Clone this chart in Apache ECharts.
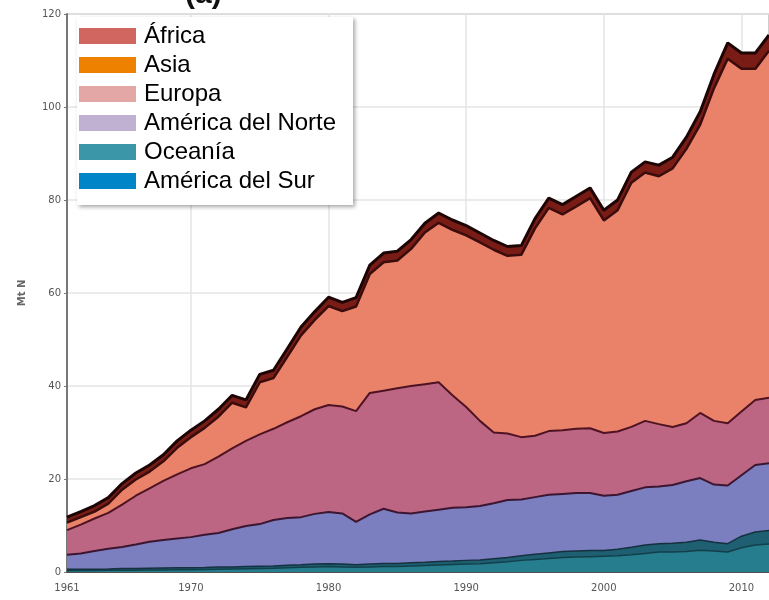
<!DOCTYPE html>
<html>
<head>
<meta charset="utf-8">
<script src="https://cdn.jsdelivr.net/npm/echarts@6/dist/echarts.min.js"></script>
<style>html,body{margin:0;padding:0;background:#fff}#c{width:769px;height:600px}</style>
</head>
<body>
<div id="c"></div>
<script>
const years = [1961,1962,1963,1964,1965,1966,1967,1968,1969,1970,1971,1972,1973,1974,1975,1976,1977,1978,1979,1980,1981,1982,1983,1984,1985,1986,1987,1988,1989,1990,1991,1992,1993,1994,1995,1996,1997,1998,1999,2000,2001,2002,2003,2004,2005,2006,2007,2008,2009,2010,2011,2012];
const xTickLabels = [1961,1970,1980,1990,2000,2010];
const xGridYears = [1970,1980,1990,2000,2010];

const americaSur = [0.3,0.3,0.3,0.35,0.4,0.4,0.45,0.45,0.5,0.5,0.55,0.6,0.65,0.7,0.75,0.8,0.9,1.0,1.1,1.2,1.1,1.0,1.1,1.2,1.2,1.3,1.4,1.5,1.6,1.7,1.8,2.0,2.2,2.5,2.7,2.9,3.1,3.2,3.3,3.4,3.5,3.7,4.0,4.3,4.3,4.4,4.7,4.5,4.3,5.2,5.8,6.0];
const oceania = [0.3,0.3,0.3,0.3,0.35,0.35,0.35,0.4,0.4,0.4,0.4,0.45,0.45,0.5,0.5,0.5,0.55,0.55,0.6,0.6,0.6,0.55,0.6,0.65,0.65,0.7,0.7,0.75,0.75,0.8,0.8,0.85,0.9,1.0,1.1,1.2,1.3,1.3,1.3,1.2,1.4,1.6,1.8,1.8,1.9,2.0,2.2,1.9,1.8,2.5,2.8,2.9];
const americaNorte = [3.1,3.4,3.9,4.35,4.65,5.15,5.7,6.05,6.3,6.6,7.05,7.35,8.1,8.7,9.05,9.9,10.15,10.25,10.8,11.1,10.9,9.25,10.7,11.75,10.95,10.6,10.9,11.15,11.45,11.4,11.6,11.95,12.4,12.1,12.3,12.5,12.4,12.5,12.4,11.8,11.7,12.1,12.4,12.3,12.5,13.1,13.3,12.4,12.5,13.1,14.4,14.5];
const europa = [5.3,6.2,7.0,7.7,9.1,10.5,11.5,12.7,13.8,14.8,15.2,16.4,17.4,18.3,19.3,19.6,20.6,21.7,22.5,23.0,23.0,23.8,26.1,25.4,26.7,27.4,27.4,27.4,24.2,21.6,18.3,15.2,14.3,13.4,13.2,13.7,13.7,13.8,13.9,13.5,13.6,13.8,14.3,13.4,12.5,12.5,14.0,13.7,13.4,13.7,14.0,14.1];
const asia = [1.6,1.6,1.5,2.0,3.2,3.5,3.6,4.2,5.7,6.7,7.8,8.6,9.8,7.2,11.2,10.9,14.1,17.4,19.2,21.3,20.5,22.5,25.6,27.6,27.5,29.5,32.6,34.3,35.6,36.9,38.4,39.3,38.2,39.2,44.6,48.0,46.4,47.8,49.5,45.7,47.6,52.5,53.4,53.3,55.6,59.0,62.0,71.5,78.4,73.7,71.2,74.6];
const africa = [1.2,1.2,1.3,1.3,1.3,1.4,1.4,1.4,1.5,1.5,1.5,1.6,1.6,1.6,1.7,1.7,1.7,1.8,1.8,1.9,1.9,1.9,1.9,2.0,2.0,2.0,2.0,2.1,2.1,2.1,2.0,2.0,2.0,2.0,2.1,2.1,2.1,2.2,2.2,2.2,2.2,2.3,2.3,2.4,2.4,2.5,2.8,3.0,3.4,3.4,3.4,3.4];

const names = ['África','Asia','Europa','América del Norte','Oceanía','América del Sur'];
const legendColors = ['#d0665f','#ee8200','#e3a7a5','#c0b1d3','#3b96a8','#0085c8'];

const chart = echarts.init(document.getElementById('c'), null, {renderer:'canvas'});

function areaSeries(name, arr, fill, line, lw) {
  return {
    name: name, type: 'line', stack: 'total', data: arr,
    symbol: 'none', showSymbol: false,
    itemStyle: {color: fill},
    lineStyle: {color: line, width: lw},
    areaStyle: {color: fill, opacity: 1}
  };
}

const showLabel = (idx, val) => xTickLabels.indexOf(Number(val)) >= 0;
const showGrid = (idx, val) => xGridYears.indexOf(Number(val)) >= 0;

try {
chart.setOption({
  animation: false,
  backgroundColor: '#fff',
  title: {
    text: '(a)', left: 180, top: -25,
    textStyle: {fontSize: 30, fontWeight: 'bold', color: '#111', fontFamily: 'Liberation Sans'}
  },
  grid: {left: 67, right: -7, top: 14, bottom: 28, show: true, borderColor: '#9a9a9a', borderWidth: 1, backgroundColor: '#fff'},
  legend: {
    orient: 'vertical', left: 77, top: 17,
    data: names.map((n,i)=>({name: n, itemStyle: {color: legendColors[i]}})),
    icon: 'rect', itemWidth: 57, itemHeight: 16, itemGap: 5,
    padding: [7, 17, 12, 2],
    backgroundColor: '#fff',
    shadowColor: 'rgba(0,0,0,0.35)', shadowBlur: 4, shadowOffsetX: 2, shadowOffsetY: 2,
    textStyle: {fontSize: 24, color: '#000', fontFamily: 'Liberation Sans', padding: [0,0,0,3]}
  },
  xAxis: {
    type: 'category', data: years.map(String), boundaryGap: false,
    axisLine: {show: true, lineStyle: {color: '#222', width: 1.5}},
    axisTick: {show: true, inside: true, length: 4, interval: showLabel, lineStyle: {color: '#777'}},
    axisLabel: {interval: showLabel, color: '#555', fontSize: 10, fontFamily: 'DejaVu Sans', margin: 11},
    splitLine: {show: true, interval: showGrid, lineStyle: {color: '#e4e4e4', width: 1.5}}
  },
  yAxis: {
    type: 'value', min: 0, max: 120, interval: 20,
    name: 'Mt N', nameLocation: 'middle', nameGap: 40, nameRotate: 90,
    nameTextStyle: {color: '#666', fontSize: 10, fontFamily: 'DejaVu Sans', fontWeight: 'bold'},
    axisLine: {show: true, lineStyle: {color: '#777', width: 2}},
    axisTick: {show: true, length: 3, lineStyle: {color: '#777'}},
    axisLabel: {color: '#555', fontSize: 10, fontFamily: 'DejaVu Sans', margin: 6},
    splitLine: {show: true, lineStyle: {color: '#e4e4e4', width: 1.5}}
  },
  series: [
    areaSeries('América del Sur', americaSur, '#257d8d', '#123f4a', 1.5),
    areaSeries('Oceanía', oceania, '#1e5f72', '#15303f', 1.5),
    areaSeries('América del Norte', americaNorte, '#7b7ebf', '#3c1630', 2),
    areaSeries('Europa', europa, '#bc6683', '#4f1222', 2),
    areaSeries('Asia', asia, '#ea826a', '#3a0c0c', 2.5),
    areaSeries('África', africa, '#7a1c16', '#1e0505', 3)
  ]
});
} catch (e) {
  document.body.insertAdjacentHTML('beforeend', '<pre>'+e.stack+'</pre>');
}
</script>
</body>
</html>
